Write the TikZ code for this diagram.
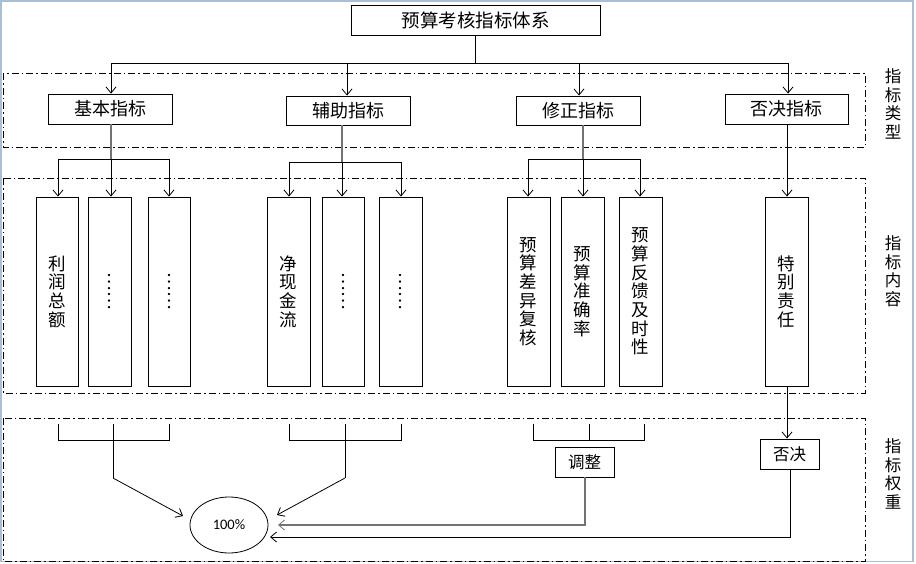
\documentclass[tikz,border=0pt]{standalone}
\usepackage{fontspec}
\setmainfont{Carlito}
\newfontfamily\cjk{Noto Sans CJK SC}
\usetikzlibrary{arrows.meta,shapes.geometric}
\tikzset{
  box/.style={draw=black,line width=0.9pt,fill=white,inner sep=0pt,font=\cjk\fontsize{18}{18}\selectfont},
  tall/.style={draw=black,line width=0.9pt,fill=white,inner sep=0pt},
  zone/.style={draw=black,line width=0.6pt,dash pattern=on 7pt off 3pt on 1.5pt off 3pt},
  con/.style={draw=black,line width=0.8pt},
  gcon/.style={draw=black!55,line width=1.2pt},
  arr/.style={-{Straight Barb[length=6pt,width=10pt,line width=0.8pt]}},
  vlab/.style={font=\cjk\fontsize{17.5}{18.7}\selectfont,align=center,inner sep=0pt},
  side/.style={font=\cjk\fontsize{16.5}{18.5}\selectfont,align=center,inner sep=0pt},
}
\begin{document}
\begin{tikzpicture}[x=1pt,y=-1pt]
\useasboundingbox (0,0) rectangle (916,563);
% window frame
\draw[color={rgb,255:red,170;green,190;blue,212},line width=1.2pt] (1,1) rectangle (913,561.5);
% zones
\draw[zone] (3,73) rectangle (865,147);
\draw[zone] (3,178) rectangle (865,393);
\draw[zone] (3,418) rectangle (865,561);
\node[side] (s1) at (893,104) {指\\标\\类\\型};
\node[side] (s2) at (893,271) {指\\标\\内\\容};
\node[side] (s3) at (893,474) {指\\标\\权\\重};
% top
\node[box,minimum width=249pt,minimum height=30pt,font=\cjk\fontsize{18.5}{18.5}\selectfont] (top) at (475.5,20) {预算考核指标体系};
% row1
\node[box,minimum width=124pt,minimum height=30pt] (b1) at (110,109) {基本指标};
\node[box,minimum width=124pt,minimum height=29pt] (b2) at (348,110.5) {辅助指标};
\node[box,minimum width=124pt,minimum height=29pt] (b3) at (578,110.5) {修正指标};
\node[box,minimum width=123pt,minimum height=30pt] (b4) at (786.5,109) {否决指标};
\coordinate (t0) at (475,63);
\coordinate (hl) at (111,63);
\coordinate (hr) at (788,63);
\draw[con] (top.south -| t0) -- (t0);
\draw[con] (hl) -- (hr);
\draw[con,arr] (hl) -- (b1.north -| hl);
\draw[con,arr] (347,63) -- (b2.north -| 347,0);
\draw[con,arr] (579,63) -- (b3.north -| 579,0);
\draw[con,arr] (hr) -- (b4.north -| hr);
% row2 boxes
\node[tall,minimum width=42pt,minimum height=189pt] (c1) at (57,291.5) {};
\node[tall,minimum width=43pt,minimum height=189pt] (c2) at (109.5,291.5) {};
\node[tall,minimum width=42pt,minimum height=189pt] (c3) at (169,291.5) {};
\node[tall,minimum width=43pt,minimum height=189pt] (c4) at (288.5,291.5) {};
\node[tall,minimum width=42pt,minimum height=189pt] (c5) at (343,291.5) {};
\node[tall,minimum width=43pt,minimum height=189pt] (c6) at (400.5,291.5) {};
\node[tall,minimum width=43pt,minimum height=189pt] (c7) at (528.5,291.5) {};
\node[tall,minimum width=43pt,minimum height=189pt] (c8) at (582.5,291.5) {};
\node[tall,minimum width=43pt,minimum height=189pt] (c9) at (640.5,291.5) {};
\node[tall,minimum width=43pt,minimum height=189pt] (c10) at (786.5,291.5) {};
\node[vlab] (l1) at (c1) {利\\润\\总\\额};
\node[vlab,rotate=-90] (l2) at (c2) {……};
\node[vlab,rotate=-90] (l3) at (c3) {……};
\node[vlab] (l4) at (c4) {净\\现\\金\\流};
\node[vlab,rotate=-90] (l5) at (c5) {……};
\node[vlab,rotate=-90] (l6) at (c6) {……};
\node[vlab] (l7) at (c7) {预\\算\\差\\异\\复\\核};
\node[vlab] (l8) at (c8) {预\\算\\准\\确\\率};
\node[vlab] (l9) at (c9) {预\\算\\反\\馈\\及\\时\\性};
\node[vlab] (l10) at (c10) {特\\别\\责\\任};
% group 1 distribution
\draw[gcon] (b1.south -| 111,0) -- (111,159);
\draw[con] (58,159) -- (169,159);
\draw[con,arr] (58,159) -- (c1.north -| 58,0);
\draw[con,arr] (111,159) -- (c2.north -| 111,0);
\draw[con,arr] (169,159) -- (c3.north -| 169,0);
% group 2
\draw[gcon] (b2.south -| 342,0) -- (342,162);
\draw[con] (289,162) -- (401,162);
\draw[con,arr] (289,162) -- (c4.north -| 289,0);
\draw[con,arr] (342,162) -- (c5.north -| 342,0);
\draw[con,arr] (401,162) -- (c6.north -| 401,0);
% group 3
\draw[gcon] (b3.south -| 583,0) -- (583,159);
\draw[con] (528,159) -- (640,159);
\draw[con,arr] (528,159) -- (c7.north -| 528,0);
\draw[con,arr] (583,159) -- (c8.north -| 583,0);
\draw[con,arr] (640,159) -- (c9.north -| 640,0);
% group 4
\draw[con,arr] (b4.south -| 787,0) -- (c10.north -| 787,0);
% row3
\node[draw=black,line width=0.8pt,ellipse,minimum width=78pt,minimum height=56pt,inner sep=0pt,font=\fontsize{14.5}{14.5}\selectfont] (pc) at (229,525) {100\%};
\node[box,minimum width=59pt,minimum height=30pt,font=\cjk\fontsize{16.5}{16.5}\selectfont] (adj) at (584.5,462) {调整};
\node[box,minimum width=59pt,minimum height=30pt,font=\cjk\fontsize{16.5}{16.5}\selectfont] (veto) at (789.5,454) {否决};
% brackets
\draw[con] (58,424) -- (58,440) -- (169,440) -- (169,424);
\draw[con] (289,424) -- (289,440) -- (401,440) -- (401,424);
\draw[con] (533,424) -- (533,440) -- (644,440) -- (644,424);
\draw[con] (589,424) -- (589,440);
\coordinate (g1) at (113,478);
\coordinate (g2) at (345,478);
\coordinate (e1) at (183,516);
\coordinate (e2) at (277,515);
\coordinate (e3) at (278,525);
\coordinate (e4) at (270,537);
\draw[con] (113,424) -- (g1);
\draw[con] (345,424) -- (g2);
\draw[con,arr] (g1) -- (e1);
\draw[con,arr] (g2) -- (e2);
\draw[con,arr] (c10.south -| 787,0) -- (veto.north -| 787,0);
\draw[gcon,arr] (adj.south -| 585,0) -- (585,525) -- (e3);
\draw[con,arr] (veto.south -| 790,0) -- (790,537) -- (e4);
\end{tikzpicture}
\end{document}
